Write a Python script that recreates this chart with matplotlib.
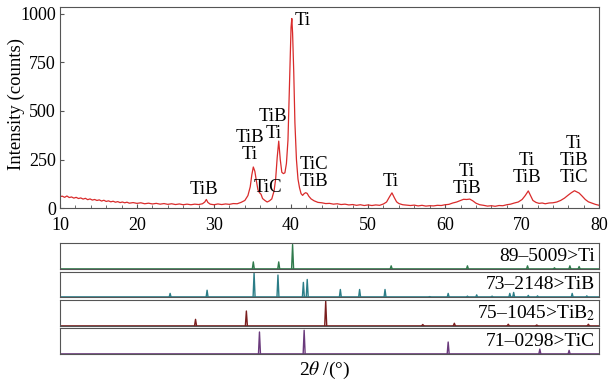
import matplotlib
matplotlib.use("Agg")
import matplotlib.pyplot as plt
from matplotlib.ticker import MultipleLocator

plt.rcParams.update({
    "font.family": ["Liberation Serif", "DejaVu Serif"],
    "mathtext.fontset": "stix",
    "font.size": 13.5,
    "xtick.direction": "in",
    "ytick.direction": "in",
})

two_theta = [
    10.0, 10.3, 10.6, 10.9, 11.2, 11.5, 11.8, 12.1, 12.4, 12.7, 13.0, 13.3, 13.6, 13.9,
    14.2, 14.5, 14.8, 15.1, 15.4, 15.7, 16.0, 16.3, 16.6, 16.9, 17.2, 17.5, 17.8, 18.1,
    18.4, 18.7, 19.0, 19.5, 20.0, 20.5, 21.0, 21.5, 22.0, 22.5, 23.0, 23.5, 24.0, 24.5,
    25.0, 25.5, 26.0, 26.5, 27.0, 27.5, 28.0, 28.5, 28.8, 29.0, 29.2, 29.5, 30.0, 30.5,
    31.0, 31.5, 32.0, 32.5, 33.0, 33.5, 34.0, 34.4, 34.7, 34.9, 35.1, 35.3, 35.5, 35.7,
    35.9, 36.1, 36.3, 36.6, 36.9, 37.2, 37.5, 37.8, 38.0, 38.2, 38.4, 38.6, 38.8, 39.0,
    39.2, 39.4, 39.6, 39.8, 40.0, 40.1, 40.2, 40.35, 40.5, 40.7, 40.9, 41.1, 41.3, 41.5,
    41.7, 41.9, 42.1, 42.3, 42.6, 43.0, 43.5, 44.0, 44.5, 45.0, 45.5, 46.0, 46.5, 47.0,
    47.5, 48.0, 48.5, 49.0, 49.5, 50.0, 50.5, 51.0, 51.5, 52.0, 52.4, 52.8, 53.1, 53.4,
    53.7, 54.0, 54.5, 55.0, 55.5, 56.0, 56.5, 57.0, 57.5, 58.0, 58.5, 59.0, 59.5, 60.0,
    60.5, 61.0, 61.5, 62.0, 62.4, 62.8, 63.2, 63.6, 64.0, 64.5, 65.0, 65.5, 66.0, 66.5,
    67.0, 67.5, 68.0, 68.5, 69.0, 69.5, 70.0, 70.4, 70.8, 71.1, 71.4, 71.8, 72.2, 72.6,
    73.0, 73.5, 74.0, 74.5, 75.0, 75.5, 76.0, 76.4, 76.8, 77.1, 77.4, 77.8, 78.2, 78.6,
    79.0, 79.5, 80.0,
]
counts = [
    60, 62, 56, 63, 55, 58, 52, 56, 50, 53, 47, 51, 44, 48,
    42, 45, 40, 43, 37, 41, 35, 38, 33, 36, 31, 34, 29, 32,
    28, 31, 26, 29, 25, 28, 23, 26, 22, 25, 21, 24, 20, 23,
    19, 22, 18, 21, 18, 21, 19, 23, 32, 45, 30, 21, 18, 22,
    19, 22, 20, 24, 23, 30, 40, 65, 110, 170, 212, 190, 140, 95,
    80, 72, 50, 40, 32, 38, 48, 90, 150, 260, 345, 250, 185, 178,
    182, 230, 350, 650, 930, 975, 900, 700, 440, 250, 150, 105, 75, 66,
    75, 80, 76, 62, 48, 38, 30, 28, 24, 25, 21, 23, 19, 21,
    17, 19, 15, 18, 14, 17, 14, 17, 15, 22, 32, 60, 79, 55,
    33, 24, 18, 16, 14, 16, 12, 15, 11, 13, 12, 15, 14, 18,
    20, 27, 32, 40, 46, 45, 47, 38, 26, 18, 15, 11, 13, 10,
    14, 13, 18, 21, 27, 32, 45, 65, 89, 65, 40, 30, 25, 27,
    23, 27, 28, 32, 40, 52, 68, 80, 90, 84, 78, 62, 45, 33,
    27, 20, 15,
]

# Peak labels: (2theta, intensity of text centre, text)
label_x = [28.7, 34.6, 37.0, 37.7, 41.6, 43.0, 53.0, 62.8, 70.6, 76.7]
label_y = [98, 320, 106, 427, 966, 180, 135, 146, 201, 243]
label_text = ["TiB", "TiB\nTi", "TiC", "TiB\nTi", "Ti", "TiC\nTiB", "Ti",
              "Ti\nTiB", "Ti\nTiB", "Ti\nTiB\nTiC"]

# Reference cards: peak positions and relative heights (%)
ti_pos = [35.1, 38.4, 40.2, 53.0, 62.9, 70.7, 74.2, 76.2, 77.4]
ti_int = [29, 29, 100, 13, 13, 13, 5, 13, 10]
tib_pos = [24.3, 29.1, 35.2, 38.3, 41.6, 42.1, 46.4, 48.9, 52.2, 58.0, 60.4,
           62.9, 64.1, 66.1, 68.4, 68.9, 70.8, 72.0, 76.5, 78.4]
tib_int = [16, 29, 100, 91, 61, 73, 32, 32, 32, 3, 16,
           5, 10, 5, 16, 20, 8, 6, 16, 6]
tib2_pos = [27.6, 34.2, 44.5, 57.1, 61.2, 68.2, 71.9, 78.6]
tib2_int = [26, 60, 100, 5, 10, 6, 3, 6]
tic_pos = [35.9, 41.7, 60.4, 72.3, 76.1]
tic_int = [90, 97, 49, 20, 15]

cards = [
    ("89\u20135009>Ti", ti_pos, ti_int, "#2f7a4c"),
    ("73\u20132148>TiB", tib_pos, tib_int, "#2b7d87"),
    ("75\u20131045>TiB$_2$", tib2_pos, tib2_int, "#7a1e1e"),
    ("71\u20130298>TiC", tic_pos, tic_int, "#6a3a7c"),
]

fig = plt.figure(figsize=(6.12, 3.80), dpi=100)

# main pattern
ax = fig.add_axes([0.098, 0.452, 0.881, 0.530])
ax.plot(two_theta, counts, color="#d92b2b", lw=0.9)
ax.set_xlim(10, 80)
ax.set_ylim(0, 1035)
ax.xaxis.set_major_locator(MultipleLocator(10))
ax.xaxis.set_minor_locator(MultipleLocator(2))
ax.yaxis.set_major_locator(MultipleLocator(250))
ax.tick_params(which="both", top=False, right=False, length=3, color="#555555")
ax.tick_params(which="minor", length=2)
ax.tick_params(axis="y", labelsize=13, pad=3)
ax.tick_params(axis="x", labelsize=13, pad=6)
ax.set_ylabel("Intensity (counts)", fontsize=13.5)
ax.yaxis.set_label_coords(-0.064, 0.52)
for s in ax.spines.values():
    s.set_color("#555555")
    s.set_linewidth(0.8)
for x, y, t in zip(label_x, label_y, label_text):
    ha = "left" if t == "Ti" and y > 900 else "center"
    ax.text(x if ha == "center" else 40.45, y, t, ha=ha, va="center",
            fontsize=13.5, linespacing=1.0)

# reference card panels
panel_bottoms = [0.2921, 0.2176, 0.1429, 0.0684]
for (name, pos, inten, col), b in zip(cards, panel_bottoms):
    pax = fig.add_axes([0.098, b, 0.881, 0.0676])
    pax.axhline(0, color=col, lw=1.2)
    for p, h in zip(pos, inten):
        pax.plot([p - 0.13, p, p + 0.13], [0, h, 0], color=col, lw=1.0)
    pax.set_xlim(10, 80)
    pax.set_ylim(0, 105)
    pax.set_xticks([])
    pax.set_yticks([])
    for s in pax.spines.values():
        s.set_color("#555555")
        s.set_linewidth(0.8)
    pax.text(0.993, 0.5, name, transform=pax.transAxes, ha="right",
             va="center", fontsize=14)

fig.text(324.5 / 612, 1 - 370 / 380, r"2$\theta$ /(°)", ha="center",
         va="center", fontsize=14)

fig.savefig("out.png", dpi=100)
